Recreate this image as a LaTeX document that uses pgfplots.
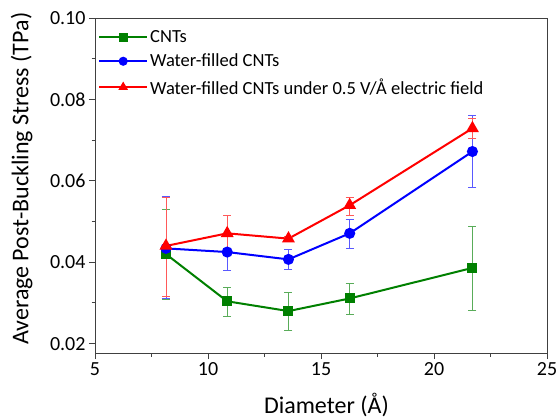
\documentclass[border=0pt]{standalone}
\usepackage{fontspec}
\setmainfont{Carlito}
\usepackage{pgfplots}
\pgfplotsset{compat=1.18}
\definecolor{cgreen}{RGB}{0,128,0}
\definecolor{cblue}{RGB}{0,0,255}
\definecolor{cred}{RGB}{255,0,0}
\begin{document}
\begin{tikzpicture}
\path[use as bounding box] (0,0) rectangle (556pt,418pt);
\begin{axis}[
  at={(95pt,65pt)}, anchor=south west,
  scale only axis, width=452pt, height=335pt,
  xmin=5, xmax=25, ymin=0.0177, ymax=0.10,
  xtick={5,10,15,20,25}, ytick={0.02,0.04,0.06,0.08,0.10},
  minor x tick num=1, minor y tick num=1,
  tick align=outside, tick pos=left,
  major tick length=6pt, minor tick length=3.5pt,
  axis line style={line width=1pt, black!75},
  every tick/.style={line width=1pt, black!75},
  /pgf/number format/assume math mode=true,
  yticklabel style={/pgf/number format/fixed, /pgf/number format/fixed zerofill, /pgf/number format/precision=2},
  xticklabel style={/pgf/number format/fixed},
  scaled y ticks=false,
  tick label style={font=\fontsize{20}{24}\selectfont},
  label style={font=\fontsize{24}{28}\selectfont},
  xlabel={Diameter (Å)},
  ylabel={Average Post-Buckling Stress (TPa)},
  xlabel style={at={(axis description cs:0.512,-0.155)}, anchor=center},
  ylabel style={at={(axis description cs:-0.162,0.52)}, anchor=center, rotate=0},
  legend style={draw=none, fill=none, at={(0.0,0.975)}, anchor=north west,
    font=\fontsize{18.5}{22}\selectfont, row sep=6pt},
  legend cell align=left,
  legend image code/.code={\draw[mark repeat=2,mark phase=2,#1,line width=2pt,mark size=3.5pt] plot coordinates {(0pt,0pt) (24pt,0pt) (48pt,0pt)};},
  error bars/y dir=both, error bars/y explicit,
]
\addplot[cgreen, line width=2pt, mark=square*, mark size=4pt,
  error bars/error bar style={line width=0.8pt, cgreen!65},
  error bars/error mark options={rotate=90, mark size=4pt, line width=0.8pt, cgreen!65}]
  table[x=x, y=y, y error plus=ep, y error minus=em] {
x y ep em
8.14 0.0420 0.0111 0.0112
10.85 0.0304 0.0035 0.0037
13.56 0.0280 0.0047 0.0047
16.27 0.0311 0.0038 0.0039
21.70 0.0386 0.0103 0.0104
};
\addlegendentry{CNTs}
\addplot[cblue, line width=2pt, mark=*, mark size=4.5pt,
  error bars/error bar style={line width=0.8pt, cblue!65},
  error bars/error mark options={rotate=90, mark size=4pt, line width=0.8pt, cblue!65}]
  table[x=x, y=y, y error plus=ep, y error minus=em] {
x y ep em
8.14 0.0434 0.0127 0.0123
10.85 0.0425 0.0046 0.0046
13.56 0.0407 0.0024 0.0024
16.27 0.0471 0.0035 0.0036
21.70 0.0672 0.0088 0.0088
};
\addlegendentry{Water-filled CNTs}
\addplot[cred, line width=2pt, mark=triangle*, mark size=5.5pt,
  error bars/error bar style={line width=0.8pt, cred!65},
  error bars/error mark options={rotate=90, mark size=4pt, line width=0.8pt, cred!65}]
  table[x=x, y=y, y error plus=ep, y error minus=em] {
x y ep em
8.14 0.0440 0.0119 0.0123
10.85 0.0471 0.0043 0.0043
13.56 0.0458 0.0005 0.0005
16.27 0.0540 0.0019 0.0024
21.70 0.0729 0.0025 0.0026
};
\addlegendentry{Water-filled CNTs under 0.5 V/Å electric field}
\end{axis}
\end{tikzpicture}
\end{document}
